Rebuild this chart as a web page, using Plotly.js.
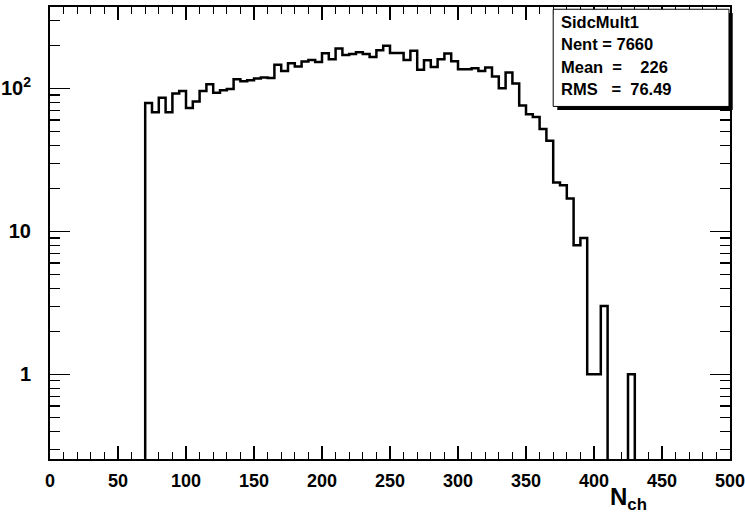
<!DOCTYPE html>
<html>
<head>
<meta charset="utf-8">
<script src="https://cdn.plot.ly/plotly-3.0.1.min.js"></script>
<style>html,body{margin:0;padding:0;background:#fff;}#chart{width:745px;height:516px;}</style>
</head>
<body>
<div id="chart"></div>
<script>
// Histogram SidcMult1: bins of width 5 from 0 to 500
const binWidth = 5;
const binLowEdges = Array.from({length: 100}, (_, i) => i * 5);
const counts = [
  0, 0, 0, 0, 0, 0, 0, 0, 0, 0,            // 0-45
  0, 0, 0, 0, 79, 68, 86, 68, 92, 96,      // 50-95
  73, 81, 96, 107, 93, 97, 99, 116, 112, 114, // 100-145
  117, 119, 118, 146, 132, 150, 142, 154, 158, 153, // 150-195
  176, 160, 190, 171, 174, 179, 174, 166, 185, 199, // 200-245
  177, 177, 158, 183, 135, 157, 141, 160, 175, 155, // 250-295
  136, 136, 138, 132, 140, 121, 100, 129, 108, 76,  // 300-345
  66, 63, 52, 43, 22, 21, 17, 8, 9, 1,      // 350-395
  1, 3, 0, 0, 0, 1, 0, 0, 0, 0,             // 400-445
  0, 0, 0, 0, 0, 0, 0, 0, 0, 0              // 450-495
];
const xTickVals = [0, 50, 100, 150, 200, 250, 300, 350, 400, 450, 500];
const yTickVals = [1, 10, 100];
const yTickText = ['1', '10', '10<sup>2</sup>'];
const yMinorVals = [0.3, 0.4, 0.5, 0.6, 0.7, 0.8, 0.9, 2, 3, 4, 5, 6, 7, 8, 9, 20, 30, 40, 50, 60, 70, 80, 90, 200, 300];
const statsLines = ['SidcMult1', 'Nent = 7660', 'Mean  =    226', 'RMS   =  76.49'];

// step outline: left edges + final right edge; empty bins drawn below the axis floor
const floorVal = 0.01;
const xs = binLowEdges.concat([binLowEdges[binLowEdges.length - 1] + binWidth]);
const ysRaw = counts.concat([counts[counts.length - 1]]);
const ys = ysRaw.map(v => v > 0 ? v : floorVal);

const trace = {
  x: xs, y: ys, type: 'scatter', mode: 'lines',
  line: {shape: 'hv', color: '#000', width: 2.5},
  hoverinfo: 'skip'
};

const fam = 'Liberation Sans, Arial, sans-serif';

const x0 = 0.74, y1 = 0.995;
const layout = {
  width: 745, height: 516,
  margin: {l: 50, r: 15, t: 7, b: 57, pad: 0},
  paper_bgcolor: '#fff', plot_bgcolor: '#fff',
  showlegend: false,
  xaxis: {
    range: [0, 500], tickvals: xTickVals, ticks: 'inside', ticklen: 13, tickwidth: 1.2, tickcolor: '#000',
    showline: true, linecolor: '#000', linewidth: 2, mirror: 'allticks', showgrid: false, zeroline: false,
    tickfont: {family: fam, size: 18, color: '#000', weight: 700}, ticklabelstandoff: 4, ticklabeloverflow: 'allow',
    minor: {tickmode: 'linear', tick0: 0, dtick: 10, ticks: 'inside', ticklen: 7, tickwidth: 1.2, tickcolor: '#000', showgrid: false}
  },
  yaxis: {
    type: 'log', range: [-0.592, 2.569], tickvals: yTickVals, ticktext: yTickText,
    ticks: 'inside', ticklen: 20, tickwidth: 1.2, tickcolor: '#000',
    showline: true, linecolor: '#000', linewidth: 2, mirror: 'allticks', showgrid: false, zeroline: false,
    tickfont: {family: fam, size: 20, color: '#000', weight: 700}, ticklabelstandoff: 13, ticklabeloverflow: 'allow',
    minor: {tickmode: 'array', tickvals: yMinorVals, ticks: 'inside', ticklen: 10, tickwidth: 1.2, tickcolor: '#000', showgrid: false}
  },
  shapes: [
    {type: 'rect', xref: 'paper', yref: 'paper', x0: x0 + 0.006, x1: 1.004, y0: 0.78 - 0.008, y1: y1 - 0.008,
     fillcolor: '#000', line: {width: 0}},
    {type: 'rect', xref: 'paper', yref: 'paper', x0: x0, x1: 0.9985, y0: 0.78, y1: y1,
     fillcolor: '#fff', line: {color: '#000', width: 1}}
  ],
  annotations: statsLines.map((t, i) => ({
    text: t.replace(/ /g, '\u00A0'), xref: 'paper', yref: 'paper', x: x0 + 0.008, y: 0.967 - i * 0.0495,
    xanchor: 'left', yanchor: 'middle', showarrow: false,
    font: {family: fam, size: 16.5, color: '#000', weight: 700}
  })).concat([{
    text: 'N<sub>ch</sub>', xref: 'x', yref: 'paper', x: 410, y: -0.049, xanchor: 'left', yanchor: 'top',
    showarrow: false, font: {family: fam, size: 24, color: '#000', weight: 700}
  }])
};

Plotly.newPlot('chart', [trace], layout, {displayModeBar: false, staticPlot: true});
</script>
</body>
</html>
